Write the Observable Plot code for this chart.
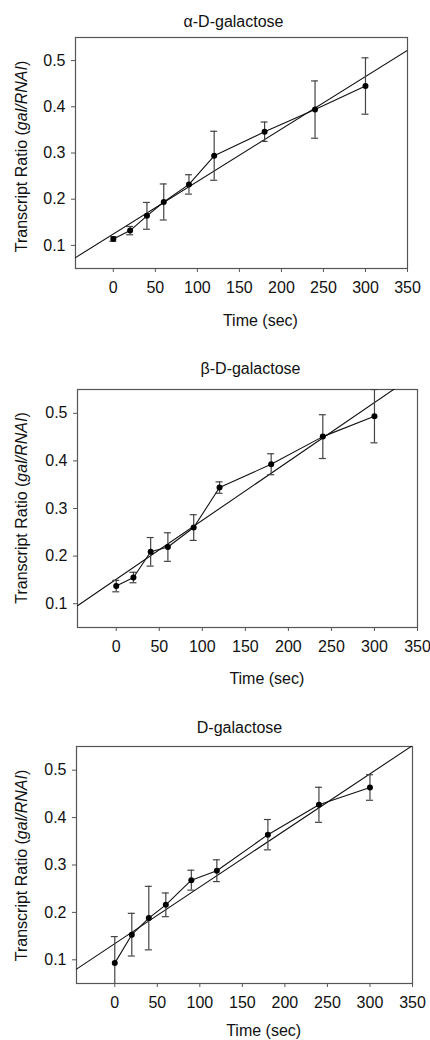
<!DOCTYPE html>
<html>
<head>
<meta charset="utf-8">
<script src="https://cdn.jsdelivr.net/npm/d3@7"></script>
<script src="https://cdn.jsdelivr.net/npm/@observablehq/plot@0.6"></script>
<style>
  html, body { margin: 0; padding: 0; background: #fff; }
  #chart { width: 430px; }
  #chart svg { display: block; }
</style>
</head>
<body>
<div id="chart"></div>
<script>
// ---- data ----
const times = [0, 20, 40, 60, 90, 120, 180, 240, 300];

const alphaMean = [0.114, 0.132, 0.164, 0.194, 0.232, 0.294, 0.346, 0.394, 0.445];
const alphaErr  = [0.005, 0.009, 0.029, 0.039, 0.021, 0.053, 0.021, 0.062, 0.061];

const betaMean  = [0.137, 0.155, 0.209, 0.219, 0.260, 0.344, 0.393, 0.451, 0.494];
const betaErr   = [0.012, 0.011, 0.030, 0.030, 0.027, 0.012, 0.022, 0.046, 0.056];

const dMean     = [0.093, 0.153, 0.188, 0.216, 0.268, 0.288, 0.364, 0.427, 0.4635];
const dErr      = [0.056, 0.045, 0.067, 0.025, 0.021, 0.023, 0.032, 0.037, 0.027];

const titles = ["α-D-galactose", "β-D-galactose", "D-galactose"];
const xTicks = [0, 50, 100, 150, 200, 250, 300, 350];
const yTicks = [0.1, 0.2, 0.3, 0.4, 0.5];
const xDomain = [-45, 350];
const yDomain = [0.05, 0.55];

const FONT = "'Liberation Sans', Arial, Helvetica, sans-serif";
const FS = 16;

function fit(xs, ys) {
  const mx = d3.mean(xs), my = d3.mean(ys);
  let sxy = 0, sxx = 0;
  xs.forEach((x, i) => { sxy += (x - mx) * (ys[i] - my); sxx += (x - mx) ** 2; });
  const slope = sxy / sxx;
  return {slope, intercept: my - slope * mx};
}

function panel(cfg) {
  const rows = times.map((t, i) => ({t, y: cfg.mean[i], lo: cfg.mean[i] - cfg.err[i], hi: cfg.mean[i] + cfg.err[i]}));
  const {slope, intercept} = fit(times, cfg.mean);
  const fitLine = xDomain.map(t => ({t, y: intercept + slope * t}));
  const xMid = (xTicks[0] + xTicks[xTicks.length - 1]) / 2;

  const svg = Plot.plot({
    width: 430,
    height: cfg.height,
    marginTop: cfg.mt,
    marginBottom: cfg.mb,
    marginLeft: cfg.ml,
    marginRight: cfg.mr,
    style: {fontFamily: FONT, fontSize: FS + "px", color: "#111", background: "#fff", overflow: "visible"},
    x: {domain: xDomain, label: null},
    y: {domain: yDomain, label: null},
    marks: [
      Plot.frame({stroke: "#555", strokeWidth: 1.2}),
      Plot.axisX({ticks: xTicks, tickSize: 4, tickPadding: 9, stroke: "#555", fill: "#111", fontSize: FS, tickFormat: d3.format("d"), label: null}),
      Plot.axisY({ticks: yTicks, tickSize: 4, tickPadding: 6, stroke: "#555", fill: "#111", fontSize: FS, tickFormat: d3.format(".1f"), label: null}),
      Plot.line(fitLine, {x: "t", y: "y", stroke: "#111", strokeWidth: 1.1, clip: true}),
      Plot.ruleX(rows, {x: "t", y1: "lo", y2: "hi", stroke: "#444", strokeWidth: 1.2, clip: true}),
      Plot.ruleY(rows, {y: "hi", x1: "t", x2: "t", insetLeft: -3.5, insetRight: -3.5, stroke: "#444", strokeWidth: 1.2, clip: true}),
      Plot.ruleY(rows, {y: "lo", x1: "t", x2: "t", insetLeft: -3.5, insetRight: -3.5, stroke: "#444", strokeWidth: 1.2, clip: true}),
      Plot.line(rows, {x: "t", y: "y", stroke: "#111", strokeWidth: 1.1}),
      Plot.dot(rows, {x: "t", y: "y", r: 3, fill: "#000", stroke: "none"}),
      Plot.text([cfg.title], {text: d => d, frameAnchor: "top", lineAnchor: "bottom", dy: -cfg.titleGap, dx: cfg.titleDx, fontSize: FS, fill: "#111"}),
      Plot.text(["Time (sec)"], {text: d => d, x: xMid, frameAnchor: "bottom", lineAnchor: "middle", dy: cfg.xlabGap, fontSize: FS, fill: "#111"})
    ]
  });

  // y-axis label with an italic part
  const frameMidY = cfg.mt + (cfg.height - cfg.mt - cfg.mb) / 2 + cfg.ylabDy;
  const lab = d3.select(svg).append("text")
    .attr("transform", `translate(27,${frameMidY}) rotate(-90)`)
    .attr("text-anchor", "middle")
    .attr("font-family", FONT)
    .attr("font-size", FS)
    .attr("fill", "#111");
  lab.append("tspan").text("Transcript Ratio (");
  lab.append("tspan").attr("font-style", "italic").text("gal/RNAI");
  lab.append("tspan").text(")");
  return svg;
}

const chart = document.getElementById("chart");
chart.appendChild(panel({title: titles[0], mean: alphaMean, err: alphaErr, height: 335, mt: 37, mb: 67, ml: 75, mr: 23, titleGap: 11, titleDx: -8, xlabGap: 52, ylabDy: 4}));
chart.appendChild(panel({title: titles[1], mean: betaMean, err: betaErr, height: 360, mt: 54, mb: 68, ml: 77, mr: 13, titleGap: 16, titleDx: 3, xlabGap: 51, ylabDy: 0}));
chart.appendChild(panel({title: titles[2], mean: dMean, err: dErr, height: 345, mt: 51, mb: 57, ml: 76, mr: 18, titleGap: 14, titleDx: -5, xlabGap: 47, ylabDy: 1}));
</script>
</body>
</html>
